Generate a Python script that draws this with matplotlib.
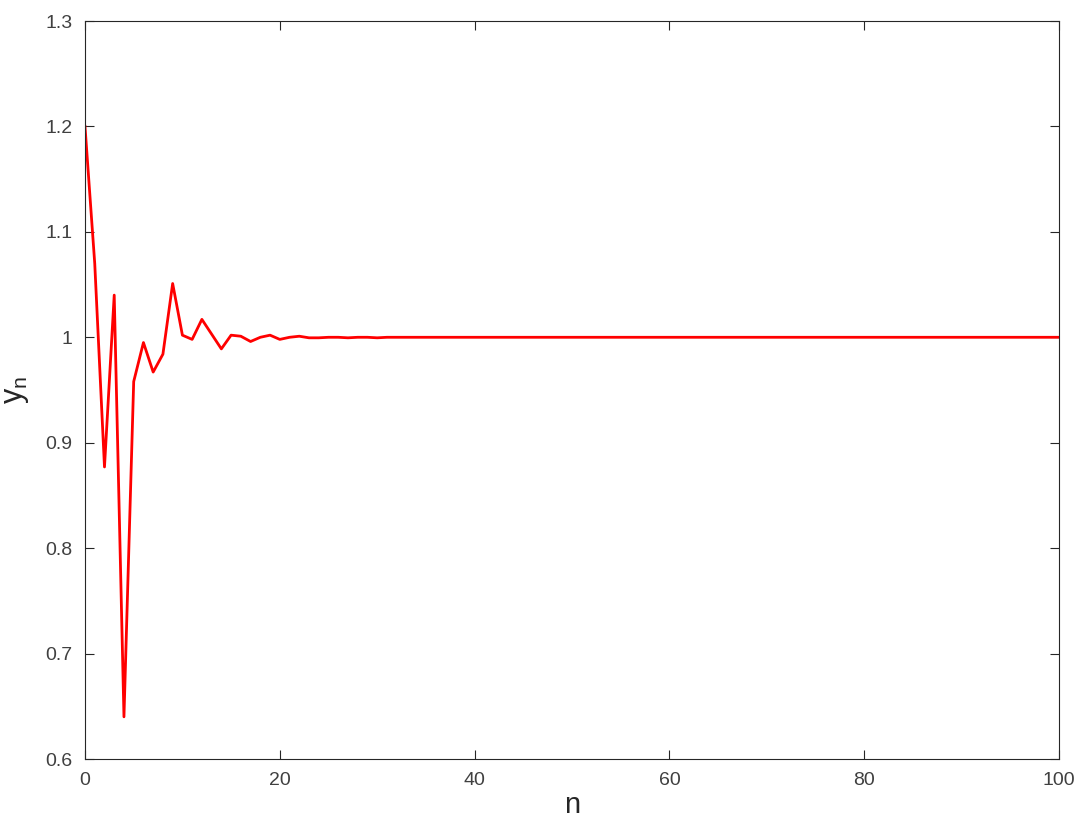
import numpy as np
import matplotlib
matplotlib.use("Agg")
import matplotlib.pyplot as plt

# =========================
# DATA
# =========================

# y_n for n = 0..30, then the curve sits flat on 1
y_debut = [1.2, 1.07, 0.877, 1.04, 0.64, 0.958, 0.995, 0.967, 0.984, 1.051,
           1.002, 0.998, 1.017, 1.003, 0.989, 1.002, 1.001, 0.996, 1.0, 1.002,
           0.998, 1.0, 1.001, 0.9995, 0.9995, 1.0, 1.0, 0.9995, 1.0, 1.0, 0.9995]
y_fin = [1.0] * 70

y_n = np.array(y_debut + y_fin)
n = np.arange(len(y_n))

x_ticks = [0, 20, 40, 60, 80, 100]
y_ticks = [0.6, 0.7, 0.8, 0.9, 1.0, 1.1, 1.2, 1.3]
y_tick_labels = ["0.6", "0.7", "0.8", "0.9", "1", "1.1", "1.2", "1.3"]

# =========================
# STYLE
# =========================

plt.rcParams["font.family"] = ["Liberation Sans", "DejaVu Sans"]
gris = "#262626"

fig = plt.figure(figsize=(10.78, 8.21), dpi=100)
ax = fig.add_axes([85 / 1078, 1 - 759 / 821, (1059 - 85) / 1078, (759 - 21) / 821])

ax.plot(n, y_n, color="red", linewidth=2)

ax.set_xlim(0, 100)
ax.set_ylim(0.6, 1.3)
ax.set_xticks(x_ticks)
ax.set_yticks(y_ticks)
ax.set_yticklabels(y_tick_labels)

ax.tick_params(direction="in", length=6.5, width=0.8, top=True, right=True,
               labelsize=14, colors=gris, labelcolor="#404040", pad=9)
for s in ax.spines.values():
    s.set_color(gris)
    s.set_linewidth(0.8)

ax.set_xlabel("n", fontsize=21, color=gris, labelpad=2)
ax.set_ylabel(r"$\mathregular{y_n}$", fontsize=22, color=gris, labelpad=10)

fig.savefig("out.png", dpi=100)
